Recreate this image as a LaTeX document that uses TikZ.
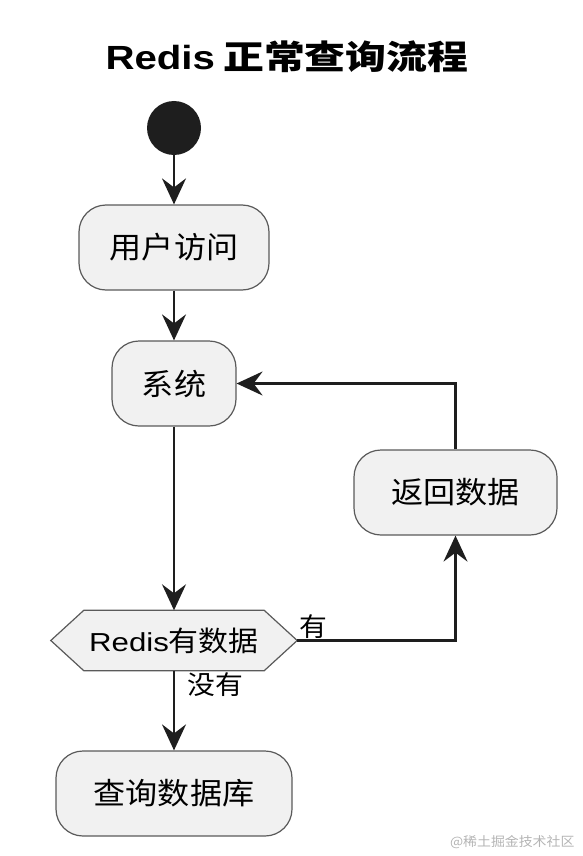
\documentclass[tikz,border=0pt]{standalone}
\usepackage{fontspec}
\usepackage{xcolor}
\setmainfont{Noto Sans CJK SC}[FakeStretch=1.07]
\newfontfamily\titlecjk{Noto Sans CJK SC}[FakeStretch=1.22]
\newfontfamily\redisfont{Liberation Sans}[FakeStretch=1.2]
\usetikzlibrary{arrows.meta,positioning,backgrounds}
\definecolor{boxfill}{HTML}{F1F1F1}
\definecolor{boxline}{HTML}{5A5A5A}
\definecolor{flowline}{HTML}{1E1E1E}
\definecolor{markgray}{HTML}{B4B4B4}
\tikzset{
    action-box/.style = {draw=boxline, fill=boxfill, line width=1.2pt, rectangle, rounded corners=27pt, minimum height=85pt, font=\fontsize{30}{36}\selectfont},
    decision/.style = {rectangle, minimum width=246pt, minimum height=60pt, inner sep=0pt, font=\fontsize{28}{32}\selectfont},
    decision-line/.style = {draw=boxline, fill=boxfill, line width=1.2pt},
    start-dot/.style = {circle, fill=flowline, minimum size=54pt, inner sep=0pt},
    flow/.style = {draw=flowline, line width=2.2pt, -{Stealth[length=26pt, width=24pt, inset=9pt]}},
    branch-label/.style = {inner sep=2pt, font=\fontsize{26}{30}\selectfont},
    title-text/.style = {font=\fontsize{33.5}{40}\selectfont\bfseries},
    watermark/.style = {text=markgray, font=\fontsize{13}{15}\selectfont},
}

\begin{document}
\begin{tikzpicture}[x=1pt, y=-1pt]
\useasboundingbox (0,0) rectangle (582,856);
\node[title-text] (title) at (287,57) {{\redisfont Redis} {\titlecjk 正常查询流程}};
\node[start-dot] (start) at (174,128) {};
\node[action-box, minimum width=190pt] (visit) at (174,247.5) {用户访问};
\node[action-box, minimum width=124pt] (system) at (174,383.5) {系统};
\node[decision] (hasdata) at (174,640.5) {{\redisfont\fontsize{26}{30}\selectfont Redis}有数据};
\node[action-box, minimum width=203pt] (reply) at (455.5,492.5) {返回数据};
\node[action-box, minimum width=236pt] (querydb) at (174,793.5) {查询数据库};
\begin{scope}[on background layer]
\draw[decision-line] (hasdata.west) -- ([xshift=33pt]hasdata.north west) -- ([xshift=-33pt]hasdata.north east)
    -- (hasdata.east) -- ([xshift=-33pt]hasdata.south east) -- ([xshift=33pt]hasdata.south west) -- cycle;
\end{scope}

\draw[flow] (start) -- (visit);
\draw[flow] (visit) -- (system);
\draw[flow] (system) -- (hasdata);
\draw[flow] (hasdata.east) -| (reply.south);
\draw[flow] (reply.north) |- (system.east);
\draw[flow] (hasdata) -- (querydb);

\node[branch-label, anchor=south west] (yes) at (hasdata.east) {有};
\node[branch-label, anchor=north west] (no) at ([xshift=11pt]hasdata.south) {没有};
\node[watermark, anchor=east] (mark) at (578,842) {@稀土掘金技术社区};
\end{tikzpicture}
\end{document}
